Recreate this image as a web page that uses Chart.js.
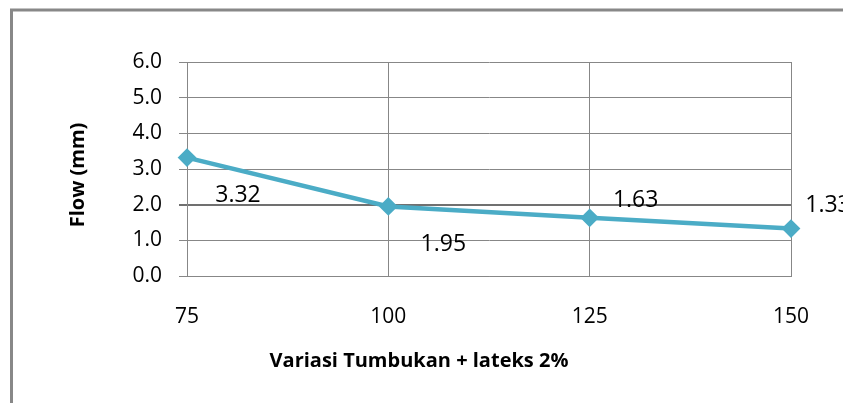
<!DOCTYPE html>
<html>
<head>
<meta charset="utf-8">
<script src="https://cdn.jsdelivr.net/npm/chart.js@4.4.1/dist/chart.umd.min.js"></script>
<style>
  html, body { margin: 0; padding: 0; background: #ffffff; }
  #wrap { position: relative; width: 843px; height: 403px; }
</style>
</head>
<body>
<div id="wrap"><canvas id="c" width="843" height="403"></canvas></div>
<script>
// ---- data ----
const categories = ['75', '100', '125', '150'];
const flowValues = [3.32, 1.95, 1.63, 1.33];
const yTickValues = [0, 1, 2, 3, 4, 5, 6];
const xAxisTitle = 'Variasi Tumbukan + lateks 2%';
const yAxisTitle = 'Flow (mm)';

const FONT = "'Open Sans', 'DejaVu Sans', sans-serif";
const GRID = '#878787';
const LINE = '#4bacc6';

const framePlugin = {
  id: 'frame',
  beforeDraw(chart) {
    const ctx = chart.ctx;
    ctx.save();
    ctx.fillStyle = '#ffffff';
    ctx.fillRect(0, 0, chart.width, chart.height);
    ctx.strokeStyle = '#888888';
    ctx.lineWidth = 3;
    ctx.beginPath();
    ctx.moveTo(11.5, chart.height);
    ctx.lineTo(11.5, 10);
    ctx.lineTo(chart.width, 10);
    ctx.stroke();
    ctx.restore();
  },
  afterDraw(chart) {
    const ctx = chart.ctx;
    ctx.save();
    ctx.fillStyle = '#000000';
    ctx.textAlign = 'center';
    ctx.textBaseline = 'middle';
    ctx.font = "bold 20px " + FONT;
    ctx.fillText(xAxisTitle, 419, 361);
    ctx.translate(78, 175);
    ctx.rotate(-Math.PI / 2);
    ctx.font = "bold 20px " + FONT;
    ctx.fillText(yAxisTitle, 0, 0);
    ctx.restore();
  }
};

const valueLabelPlugin = {
  id: 'valueLabels',
  afterDatasetsDraw(chart, args, opts) {
    const ctx = chart.ctx;
    const meta = chart.getDatasetMeta(0);
    ctx.save();
    ctx.fillStyle = '#000000';
    ctx.font = "23px " + FONT;
    ctx.textAlign = 'center';
    ctx.textBaseline = 'middle';
    meta.data.forEach((pt, i) => {
      const off = opts.offsets[i];
      ctx.fillText(flowValues[i].toFixed(2), pt.x + off[0], pt.y + off[1]);
    });
    ctx.restore();
  }
};

new Chart(document.getElementById('c'), {
  type: 'line',
  data: {
    labels: categories,
    datasets: [{
      data: flowValues,
      borderColor: LINE,
      backgroundColor: LINE,
      borderWidth: 4.5,
      pointStyle: 'rectRot',
      pointRadius: 8,
      pointBorderWidth: 2,
      pointBackgroundColor: LINE,
      pointBorderColor: LINE,
      tension: 0,
      fill: false
    }]
  },
  options: {
    responsive: false,
    animation: false,
    devicePixelRatio: 1,
    layout: { padding: { top: 62, right: 52, bottom: 0, left: 0 } },
    plugins: {
      legend: { display: false },
      tooltip: { enabled: false },
      valueLabels: { offsets: [[51, 38], [55, 38], [46, -17], [37, -23]] }
    },
    scales: {
      x: {
        type: 'category',
        offset: false,
        grid: { color: GRID, lineWidth: 1, drawTicks: false },
        border: { color: GRID, width: 1 },
        ticks: { color: '#000000', font: { family: FONT, size: 21 }, padding: 28, maxRotation: 0 },
        afterFit(scale) { scale.height = 127; }
      },
      y: {
        min: 0,
        max: 6,
        afterBuildTicks(scale) { scale.ticks = yTickValues.map(v => ({ value: v })); },
        grid: {
          color: (c) => (c.tick && c.tick.value === 2) ? '#707070' : GRID,
          lineWidth: (c) => (c.tick && c.tick.value === 2) ? 2 : 1,
          tickLength: 8
        },
        border: { color: GRID, width: 1 },
        ticks: {
          color: '#000000',
          font: { family: FONT, size: 21 },
          padding: 17,
          callback: (v) => Number(v).toFixed(1)
        },
        afterFit(scale) { scale.width = 187; }
      }
    }
  },
  plugins: [framePlugin, valueLabelPlugin]
});
</script>
</body>
</html>
